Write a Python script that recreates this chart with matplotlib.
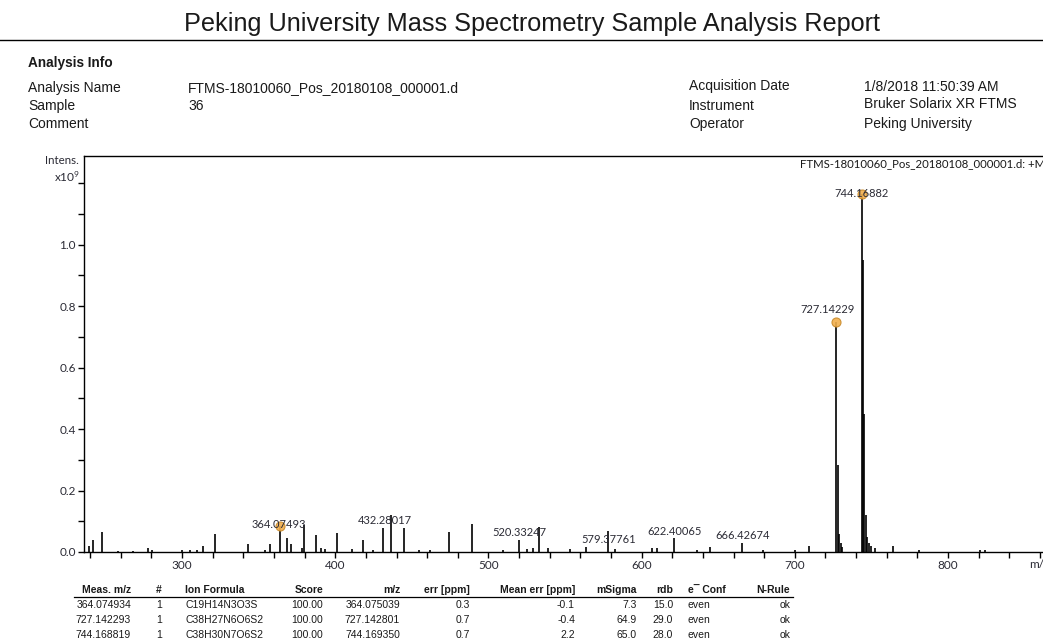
import matplotlib.pyplot as plt
from matplotlib.lines import Line2D

W, H = 1043, 644

# spectrum sticks (m/z, intensity in 1e9)
peak_mz = [239.5, 241.7, 247.6, 258.4, 268.2, 278.0, 280.2, 299.8, 305.2, 309.6,
           313.5, 321.3, 343.3, 354.2, 357.4, 364.075, 368.3, 371.1, 378.1, 379.8,
           387.5, 390.5, 393.5, 401.4, 410.8, 418.4, 424.9, 431.4, 436.4, 444.9,
           455.0, 462.0, 474.5, 489.1, 509.6, 519.8, 525.0, 529.0, 533.0, 539.1,
           553.3, 563.7, 577.9, 582.6, 606.6, 609.8, 621.3, 635.9, 644.6, 665.7,
           679.4, 700.1, 709.4, 727.142, 728.145, 729.15, 730.15, 731.1, 744.169,
           744.6, 745.17, 746.17, 747.17, 748.2, 750.0, 752.5, 764.1, 781.0,
           820.6, 824.0]
peak_int = [0.018, 0.038, 0.064, 0.004, 0.003, 0.013, 0.006, 0.008, 0.005, 0.006,
            0.020, 0.060, 0.027, 0.008, 0.026, 0.085, 0.045, 0.026, 0.012, 0.088,
            0.055, 0.012, 0.010, 0.063, 0.010, 0.039, 0.008, 0.077, 0.120, 0.077,
            0.005, 0.005, 0.066, 0.090, 0.006, 0.039, 0.010, 0.012, 0.080, 0.012,
            0.010, 0.017, 0.069, 0.010, 0.012, 0.012, 0.045, 0.008, 0.015, 0.028,
            0.006, 0.006, 0.018, 0.748, 0.283, 0.060, 0.030, 0.015, 1.163,
            0.950, 0.450, 0.120, 0.050, 0.030, 0.020, 0.012, 0.018, 0.005,
            0.006, 0.005]

marker_mz = [364.075, 727.142, 744.169]
marker_int = [0.085, 0.748, 1.163]

label_text = ["364.07493", "432.28017", "520.33247", "579.37761",
              "622.40065", "666.42674", "727.14229", "744.16882"]
label_x = [363.3, 432.5, 520.0, 578.6, 621.8, 666.0, 721.3, 743.7]
label_y = [0.091, 0.101, 0.062, 0.042, 0.068, 0.055, 0.790, 1.167]

# info block
info_left = [("Analysis Name", "FTMS-18010060_Pos_20180108_000001.d"),
             ("Sample", "36"), ("Comment", "")]
info_right = [("Acquisition Date", "1/8/2018 11:50:39 AM"),
              ("Instrument", "Bruker Solarix XR FTMS"),
              ("Operator", "Peking University")]

# result table
meas_mz = ["364.074934", "727.142293", "744.168819"]
num = ["1", "1", "1"]
formula = ["C19H14N3O3S", "C38H27N6O6S2", "C38H30N7O6S2"]
score = ["100.00", "100.00", "100.00"]
calc_mz = ["364.075039", "727.142801", "744.169350"]
err_ppm = ["0.3", "0.7", "0.7"]
mean_err = ["-0.1", "-0.4", "2.2"]
msigma = ["7.3", "64.9", "65.0"]
rdb = ["15.0", "29.0", "28.0"]
econf = ["even", "even", "even"]
nrule = ["ok", "ok", "ok"]


def fx(x):
    return x / W


def fy(y):
    return 1 - y / H


plt.rcParams["mathtext.fontset"] = "custom"
plt.rcParams["mathtext.rm"] = "Lato"
plt.rcParams["mathtext.it"] = "Lato"

fig = plt.figure(figsize=(W / 100, H / 100), dpi=100)
sans = "Liberation Sans"
txt = "#1a1a1a"

# header
fig.text(0.51, fy(24), "Peking University Mass Spectrometry Sample Analysis Report",
         ha="center", va="center", fontsize=18.2, family=sans, color=txt)
fig.add_artist(Line2D([0, 1], [fy(40), fy(40)], color="k", lw=1.0))
fig.text(fx(28), fy(63), "Analysis Info", ha="left", va="center",
         fontsize=9.8, fontweight="bold", family=sans, color=txt)
for (k, v), yy in zip(info_left, [88, 106, 124]):
    fig.text(fx(28), fy(yy), k, ha="left", va="center", fontsize=10, family=sans, color=txt)
    fig.text(fx(188), fy(yy), v, ha="left", va="center", fontsize=10, family=sans, color=txt)
for (k, v), yy, vy in zip(info_right, [86, 106, 124], [87, 104, 124]):
    fig.text(fx(689), fy(yy), k, ha="left", va="center", fontsize=10, family=sans, color=txt)
    fig.text(fx(864), fy(vy), v, ha="left", va="center", fontsize=10, family=sans, color=txt)

# spectrum axes
ax = fig.add_axes([fx(84), fy(552), 1 - fx(84), (552 - 156) / H])
ax.vlines(peak_mz, 0, peak_int, color="k", lw=1.2)
ax.plot(marker_mz, marker_int, "o", ms=6.5, mfc="#f2b04e", mec="#c98a2a", mew=0.8,
        alpha=0.9, zorder=3)
for t, x, y in zip(label_text, label_x, label_y):
    ax.text(x, y, t, ha="center", va="center", fontsize=8.0, family="Lato",
            color="#2b2b35", zorder=4)

ax.set_xlim(236.0, 862.0)
ax.set_ylim(0, 1.288)
ax.set_xticks([300, 400, 500, 600, 700, 800])
ax.set_xticks(range(240, 861, 20), minor=True)
ax.set_yticks([0.0, 0.2, 0.4, 0.6, 0.8, 1.0])
ax.set_yticks([0.1, 0.3, 0.5, 0.7, 0.9, 1.1, 1.2], minor=True)
ax.set_yticklabels(["0.0", "0.2", "0.4", "0.6", "0.8", "1.0"])
ax.tick_params(which="both", direction="out", labelsize=8.5, colors="k",
               labelcolor="#2b2b35", pad=2, width=1.0, length=4)
for lab in ax.get_xticklabels() + ax.get_yticklabels():
    lab.set_family("Lato")
ax.spines["right"].set_visible(False)
for s in ["left", "bottom", "top"]:
    ax.spines[s].set_linewidth(1.0)

fig.text(fx(79), fy(160), "Intens.", ha="right", va="center", fontsize=8.3,
         family="Lato", color="#2b2b35")
fig.text(fx(80), fy(177), r"x10$^{9}$", ha="right", va="center", fontsize=8.6,
         family="Lato", color="#2b2b35")
fig.text(fx(800), fy(164), "FTMS-18010060_Pos_20180108_000001.d: +MS", ha="left",
         va="center", fontsize=8.2, family="Lato", color="#1a1a1a")
fig.text(fx(1029), fy(564), "m/z", ha="left", va="center", fontsize=8.5,
         family="Lato", color="#2b2b35")

# table
ts = 7.5
hdr_y = fy(590)
row_y = [fy(605), fy(620), fy(635)]
cols = [
    ("Meas. m/z", meas_mz, 131, "right"),
    ("#", num, 159, "center"),
    ("Ion Formula", formula, 185, "left"),
    ("Score", score, 323, "right"),
    ("m/z", calc_mz, 400, "right"),
    ("err [ppm]", err_ppm, 470, "right"),
    ("Mean err [ppm]", mean_err, 575, "right"),
    ("mSigma", msigma, 637, "right"),
    ("rdb", rdb, 673, "right"),
    ("e\u00af Conf", econf, 688, "left"),
    ("N-Rule", nrule, 790, "right"),
]
for head, vals, x, ha in cols:
    fig.text(fx(x), hdr_y, head, ha=ha, va="center", fontsize=ts,
             fontweight="bold", family=sans, color=txt)
    for v, yy in zip(vals, row_y):
        fig.text(fx(x), yy, v, ha=ha, va="center", fontsize=ts, family=sans, color=txt)
fig.add_artist(Line2D([fx(74), fx(793)], [fy(596.5), fy(596.5)], color="k", lw=0.9))

fig.savefig("out.png", dpi=100)
